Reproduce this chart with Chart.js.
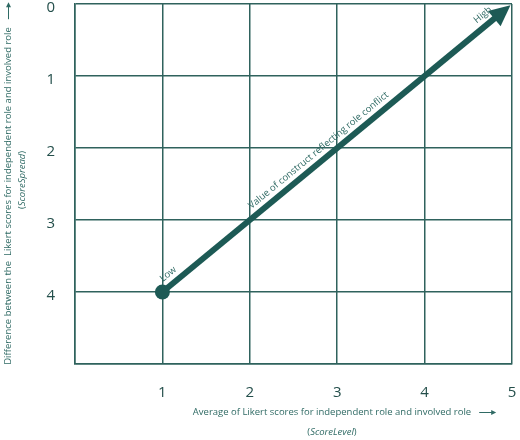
<!DOCTYPE html>
<html>
<head>
<meta charset="utf-8">
<script src="https://cdn.jsdelivr.net/npm/chart.js@4/dist/chart.umd.min.js"></script>
<style>
  html, body { margin: 0; padding: 0; background: #ffffff; }
  #wrap { width: 520px; height: 440px; }
</style>
</head>
<body>
<div id="wrap"><canvas id="c" width="520" height="440"></canvas></div>
<script>
// ---- data ----
const scoreLevel = [1, 5];        // x values: start (Low) and end (High) of the arrow
const scoreSpread = [4, 0];       // y values
const xTicks = [0, 1, 2, 3, 4, 5];
const yTicks = [0, 1, 2, 3, 4, 5];
const pointLabels = ['Low', 'High'];
const arrowLabel = 'Value of construct reflecting role conflict';
const xTitle = ['Average of Likert scores for independent role and involved role', 'ScoreLevel'];
const yTitle = ['Difference between the  Likert scores for independent role and involved role', 'ScoreSpread'];

const MAIN = '#1d5a55';
const GRID = '#2f625d';
const TEXT = '#2f6a64';
const TICK = '#244f4b';
const FONT = '"Open Sans", "Noto Sans", sans-serif';

const noPad = s => { s.paddingTop = 0; s.paddingBottom = 0; s.paddingLeft = 0; s.paddingRight = 0; };

const annotate = {
  id: 'annotate',
  beforeDatasetsDraw(chart) {
    const { ctx, scales: { x, y } } = chart;
    const x0 = x.getPixelForValue(scoreLevel[0]), y0 = y.getPixelForValue(scoreSpread[0]);
    const x1 = x.getPixelForValue(scoreLevel[1]), y1 = y.getPixelForValue(scoreSpread[1]);
    const ang = Math.atan2(y1 - y0, x1 - x0);
    const headLen = 21, headHalf = 10;
    const tx = x1 - Math.cos(ang) * 2, ty = y1 - Math.sin(ang) * 2;
    const bx = tx - Math.cos(ang) * (headLen - 2), by = ty - Math.sin(ang) * (headLen - 2);
    ctx.save();
    ctx.strokeStyle = MAIN;
    ctx.lineWidth = 6;
    ctx.lineCap = 'butt';
    ctx.beginPath();
    ctx.moveTo(x0, y0);
    ctx.lineTo(bx, by);
    ctx.stroke();
    const hx = tx - Math.cos(ang) * headLen, hy = ty - Math.sin(ang) * headLen;
    ctx.fillStyle = MAIN;
    ctx.beginPath();
    ctx.moveTo(tx, ty);
    ctx.lineTo(hx + Math.sin(ang) * headHalf, hy - Math.cos(ang) * headHalf);
    ctx.lineTo(hx - Math.sin(ang) * headHalf, hy + Math.cos(ang) * headHalf);
    ctx.closePath();
    ctx.fill();
    ctx.restore();
  },
  afterDatasetsDraw(chart) {
    const { ctx, scales: { x, y } } = chart;
    const x0 = x.getPixelForValue(scoreLevel[0]), y0 = y.getPixelForValue(scoreSpread[0]);
    const x1 = x.getPixelForValue(scoreLevel[1]), y1 = y.getPixelForValue(scoreSpread[1]);
    const ang = Math.atan2(y1 - y0, x1 - x0);
    const nx = Math.sin(ang), ny = -Math.cos(ang);
    const along = (t, off) => [x0 + (x1 - x0) * t + nx * off, y0 + (y1 - y0) * t + ny * off];
    ctx.save();
    ctx.fillStyle = TEXT;
    ctx.textAlign = 'center';
    ctx.textBaseline = 'middle';
    ctx.font = '9.5px ' + FONT;
    const put = (txt, t, off) => {
      const [px, py] = along(t, off);
      ctx.save();
      ctx.translate(px, py);
      ctx.rotate(ang);
      ctx.fillText(txt, 0, 0);
      ctx.restore();
    };
    put(pointLabels[0], 0.035, 10);
    put(arrowLabel, 0.465, 10);
    put(pointLabels[1], 0.935, 10);

    ctx.fillStyle = TEXT;
    ctx.font = '9.5px ' + FONT;
    const xc = 332;
    ctx.fillText(xTitle[0], xc, 412);
    const w0 = ctx.measureText(xTitle[0]).width;
    ctx.font = 'italic 9.5px ' + FONT;
    const wI = ctx.measureText(xTitle[1]).width;
    ctx.font = '9.5px ' + FONT;
    const wP = ctx.measureText('(').width;
    ctx.textAlign = 'left';
    let sx = xc - (wI + 2 * wP) / 2;
    ctx.fillText('(', sx, 432);
    ctx.font = 'italic 9.5px ' + FONT;
    ctx.fillText(xTitle[1], sx + wP, 432);
    ctx.font = '9.5px ' + FONT;
    ctx.fillText(')', sx + wP + wI, 432);
    const ax0 = xc + w0 / 2 + 8;
    ctx.strokeStyle = TEXT; ctx.lineWidth = 1;
    ctx.beginPath(); ctx.moveTo(ax0, 412.5); ctx.lineTo(ax0 + 13, 412.5); ctx.stroke();
    ctx.beginPath(); ctx.moveTo(ax0 + 17, 412.5); ctx.lineTo(ax0 + 12, 410); ctx.lineTo(ax0 + 12, 415); ctx.closePath(); ctx.fill();

    ctx.save();
    ctx.translate(8, 196);
    ctx.rotate(-Math.PI / 2);
    ctx.textAlign = 'center';
    ctx.font = '9.5px ' + FONT;
    ctx.fillText(yTitle[0], 0, 0);
    const wy = ctx.measureText(yTitle[0]).width;
    const ay0 = wy / 2 + 8;
    ctx.beginPath(); ctx.moveTo(ay0, 0.5); ctx.lineTo(ay0 + 13, 0.5); ctx.stroke();
    ctx.beginPath(); ctx.moveTo(ay0 + 17, 0.5); ctx.lineTo(ay0 + 12, -2); ctx.lineTo(ay0 + 12, 3); ctx.closePath(); ctx.fill();
    ctx.restore();
    ctx.save();
    ctx.translate(22, 180);
    ctx.rotate(-Math.PI / 2);
    ctx.textAlign = 'left';
    ctx.font = 'italic 9.5px ' + FONT;
    const wIy = ctx.measureText(yTitle[1]).width;
    ctx.font = '9.5px ' + FONT;
    let sy = -(wIy + 2 * wP) / 2;
    ctx.fillText('(', sy, 0);
    ctx.font = 'italic 9.5px ' + FONT;
    ctx.fillText(yTitle[1], sy + wP, 0);
    ctx.font = '9.5px ' + FONT;
    ctx.fillText(')', sy + wP + wIy, 0);
    ctx.restore();
    ctx.restore();
  }
};

new Chart(document.getElementById('c'), {
  type: 'scatter',
  data: {
    datasets: [{
      data: scoreLevel.map((v, i) => ({ x: v, y: scoreSpread[i] })),
      showLine: false,
      pointRadius: [7.5, 0],
      pointHoverRadius: [7.5, 0],
      pointBackgroundColor: MAIN,
      pointBorderColor: MAIN,
      pointBorderWidth: 0,
      clip: false
    }]
  },
  options: {
    responsive: false,
    animation: false,
    events: [],
    layout: { autoPadding: false, padding: { left: 0, right: 8, top: 4, bottom: 0 } },
    plugins: { legend: { display: false }, tooltip: { enabled: false } },
    scales: {
      x: {
        type: 'linear',
        min: xTicks[0], max: xTicks[xTicks.length - 1],
        afterBuildTicks: s => { s.ticks = xTicks.map(v => ({ value: v })); },
        afterFit: s => { s.height = 76; noPad(s); },
        ticks: {
          padding: 20,
          color: TICK,
          font: { family: FONT, size: 15 },
          callback: v => (v === 0 ? '' : String(v))
        },
        grid: { color: GRID, lineWidth: 1.5, drawTicks: false },
        border: { display: true, color: GRID, width: 1.5 }
      },
      y: {
        type: 'linear',
        reverse: true,
        min: yTicks[0], max: yTicks[yTicks.length - 1],
        afterBuildTicks: s => { s.ticks = yTicks.map(v => ({ value: v })); },
        afterFit: s => { s.width = 75; noPad(s); },
        ticks: {
          padding: 20,
          labelOffset: 3.5,
          color: TICK,
          font: { family: FONT, size: 15 },
          callback: v => (v === 5 ? '' : String(v))
        },
        grid: { color: GRID, lineWidth: 1.5, drawTicks: false },
        border: { display: true, color: GRID, width: 1.5 }
      }
    }
  },
  plugins: [annotate]
});
</script>
</body>
</html>
